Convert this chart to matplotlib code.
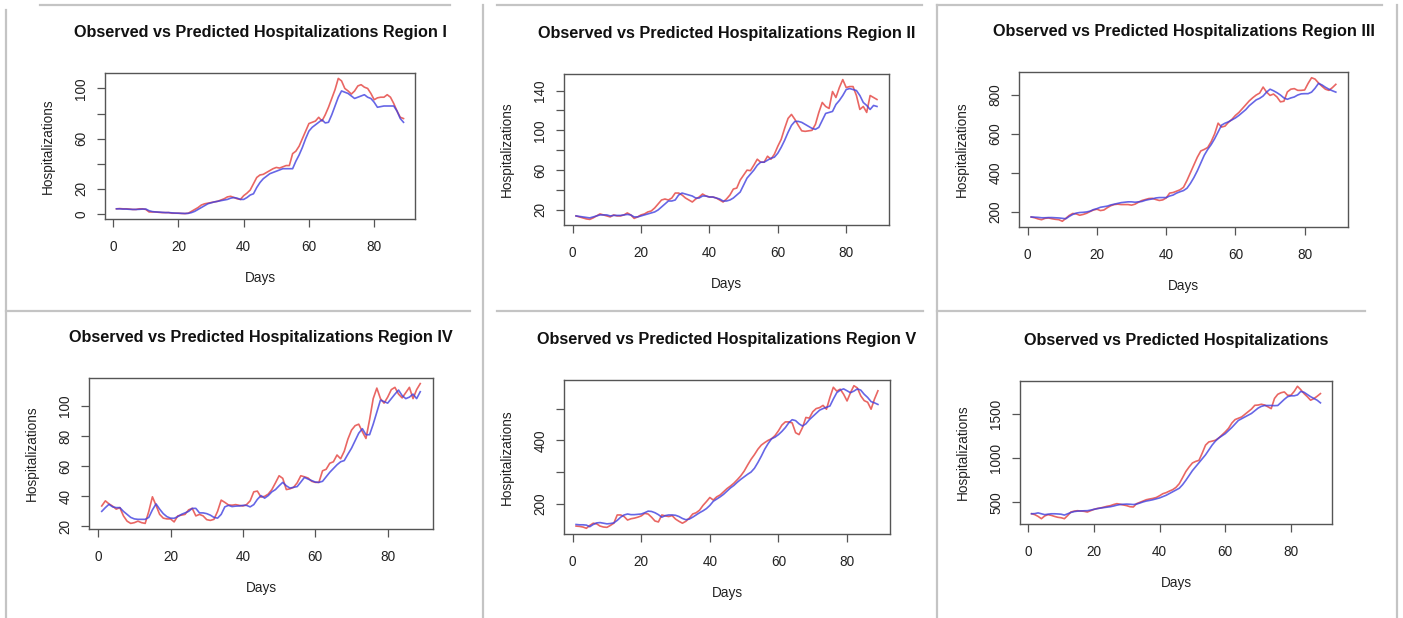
import numpy as np
import matplotlib
matplotlib.use("Agg")
import matplotlib.pyplot as plt
from matplotlib.lines import Line2D

plt.rcParams['font.family'] = ['Liberation Sans', 'DejaVu Sans']

days = np.arange(1, 90)

# Region I
obs_r1 = [4, 4.2, 4, 4, 3.8, 3.5, 3.5, 4, 4, 3.5,
          1.5, 1.5, 1.5, 1.2, 1, 1, 1, 0.5, 0.5, 0.5,
          0.3, 0.2, 0.5, 2, 3.5, 5, 7, 8, 8.5, 9,
          9.5, 10, 11, 12, 13.5, 14, 13, 12, 11.5, 14.5,
          16.5, 19, 24, 29, 31, 31.5, 33, 34.5, 36, 37,
          36.5, 37.5, 38.5, 38.5, 48, 50, 54, 60, 66, 72,
          73, 74, 77, 74, 79, 85, 92, 99, 108, 106,
          100, 98, 95.5, 98, 102, 103, 101, 100, 96, 91,
          92.5, 93, 93, 95, 93, 88, 82, 77, 76]
pred_r1 = [4, 4, 3.8, 3.8, 3.6, 3.5, 3.5, 3.6, 3.8, 3.8,
           2.5, 1.8, 1.5, 1.4, 1.2, 1, 1, 0.8, 0.6, 0.5,
           0.4, 0.3, 0.4, 1, 2, 3.5, 5, 6.5, 8, 8.8,
           9.5, 10, 10.5, 11, 11.5, 12.5, 13, 12.5, 11.5, 11.5,
           13, 15, 16, 21, 25, 28, 30, 32, 33, 34,
           35, 36, 36, 36, 36, 42, 47, 53, 60, 66,
           69, 71, 73, 75, 72.5, 73, 79, 86, 93, 98,
           97, 96, 94, 92, 93, 94, 95, 93, 92, 89,
           85, 85.5, 86, 86, 86, 86, 82, 76, 73]

# Region II
obs_r2 = [14, 13, 12, 11, 10.5, 12, 14, 16, 15, 14,
          13, 15, 14, 14, 15, 17, 15, 11.5, 13, 15,
          16, 18, 19, 22, 26, 30, 31, 30, 32, 37,
          37, 35, 32, 30, 28, 31, 33, 36, 34, 33,
          33, 32, 30, 28, 31, 35, 41, 42, 50, 55,
          60, 59.5, 65, 71, 68, 68, 74, 71, 76, 84,
          91, 102, 112, 116, 111, 105, 99.5, 99, 99.5, 100,
          106, 118, 128, 124, 122, 139, 133, 143, 151, 143,
          144, 144, 135, 121, 124, 118, 135, 133, 131]
pred_r2 = [14, 13.5, 13, 12.5, 12, 13, 14, 15, 15, 15,
           14, 14.5, 14.5, 14.5, 15, 15.5, 15, 13, 13, 14,
           15, 16, 17, 18, 20, 23, 26, 29, 29, 30,
           35, 37, 36, 35, 34, 32, 32, 34, 34, 33,
           33, 32, 31, 29, 29, 30, 32, 35, 38, 45,
           52, 56, 60, 65, 68, 68, 70, 72, 73, 77,
           83, 90, 98, 105, 109, 109, 108, 106, 104, 102,
           101, 103, 110, 117, 118, 119, 126, 130, 135, 141,
           142, 141, 140, 135, 128, 125, 121, 125, 124]

# Region III
obs_r3 = [172, 168, 162, 158, 165, 167, 163, 160, 158, 150,
          165, 180, 190, 188, 181, 185, 191, 200, 208, 212,
          205, 208, 220, 230, 236, 238, 236, 236, 236, 233,
          238, 248, 257, 262, 267, 268, 262, 257, 260, 270,
          295, 298, 305, 312, 325, 360, 400, 440, 480, 512,
          520, 530, 560, 600, 655, 635, 640, 660, 675, 695,
          710, 730, 750, 770, 786, 800, 810, 841, 815, 798,
          805, 790, 765, 768, 816, 830, 833, 824, 824, 826,
          860, 889, 882, 862, 845, 830, 824, 838, 855]
pred_r3 = [172, 171, 170, 168, 168, 169, 169, 168, 167, 165,
           163, 175, 185, 192, 195, 196, 198, 202, 210, 215,
           222, 225, 228, 234, 238, 242, 246, 248, 250, 250,
           248, 250, 252, 258, 262, 265, 270, 272, 272, 272,
           280, 285, 295, 302, 308, 320, 345, 375, 410, 450,
           490, 520, 545, 575, 610, 645, 655, 662, 672, 682,
           695, 710, 725, 745, 760, 775, 783, 795, 815, 830,
           822, 812, 800, 785, 778, 785, 790, 800, 806, 807,
           807, 815, 835, 860, 852, 840, 830, 822, 815]

# Region IV
obs_r4 = [33.6, 37, 35, 33.5, 31.5, 32.5, 27, 23.5, 22, 22.5,
          23.5, 22.5, 22, 30, 39.7, 34, 28, 25.5, 25, 25,
          23, 27, 27.5, 28, 31, 32, 27, 28, 27, 24.5,
          24, 24.7, 30, 37.5, 36, 34.3, 34.1, 34.5, 34, 33.6,
          34.5, 37, 43, 43.5, 39.5, 40, 41.5, 44.5, 49, 53.7,
          52, 44.5, 45, 46, 49, 53.7, 53, 52.2, 50, 49.3,
          49.3, 57, 58, 62, 63, 67.5, 65, 70, 78, 84,
          87, 88, 83, 78.5, 91, 105, 112, 105, 102, 106,
          111, 112.5, 108, 105.5, 109, 112.5, 105, 111, 115]
pred_r4 = [30, 32.5, 34.7, 33, 32.5, 32.5, 30, 28, 26, 25,
           24.7, 24.7, 24.7, 26, 31, 35, 31.5, 28.5, 26.5, 25.5,
           25.4, 26.5, 28, 29, 30, 32, 32, 29, 29, 28.5,
           27.5, 26, 25.5, 28, 33, 34, 33.2, 33.5, 33.6, 34,
           34, 33, 34.5, 38, 40.5, 38.8, 40.5, 43, 44.5, 47,
           49.3, 47, 45.5, 46, 46.5, 49.5, 52.6, 51.5, 50.5, 49.5,
           49.3, 50, 53, 56, 58.5, 61, 63, 63.8, 68, 72,
           77, 82, 85, 81, 81, 88, 96, 104, 103, 102,
           105, 108, 110.7, 107, 105, 106, 108, 105, 109.6]

# Region V
obs_r5 = [130, 129, 127, 123, 132, 139, 137, 130, 127, 126,
          132, 139, 165, 165, 160, 149, 153, 155, 158, 162,
          170, 168, 158, 146, 143, 165, 162, 160, 163, 152,
          145, 139, 145, 155, 168, 172, 180, 195, 207, 220,
          212, 222, 228, 238, 248, 256, 265, 276, 288, 303,
          322, 340, 355, 372, 385, 393, 400, 405, 415, 430,
          448, 458, 458, 455, 424, 418, 440, 472, 470, 490,
          500, 503, 510, 498, 535, 567, 555, 561, 545, 524,
          550, 572, 565, 540, 525, 520, 498, 530, 556]
pred_r5 = [135, 134, 134, 133, 128, 135, 140, 141, 139, 137,
           138, 140, 148, 158, 165, 168, 166, 166, 167, 168,
           172, 177, 176, 172, 166, 158, 163, 165, 165, 164,
           160, 154, 150, 152, 158, 165, 172, 178, 185, 195,
           208, 215, 222, 230, 240, 250, 258, 268, 277, 285,
           293, 300, 312, 330, 350, 372, 390, 405, 410, 418,
           428, 440, 455, 465, 462, 452, 445, 452, 465, 475,
           485, 495, 500, 504, 508, 530, 550, 558, 562, 556,
           550, 555, 562, 558, 545, 535, 522, 518, 513]

# All regions
obs_all = [371, 360, 340, 314, 345, 360, 352, 340, 330, 325,
           314, 350, 390, 400, 405, 401, 398, 390, 405, 420,
           430, 436, 445, 455, 462, 475, 485, 478, 470, 462,
           450, 447, 485, 500, 515, 530, 538, 545, 555, 575,
           598, 610, 628, 644, 670, 712, 780, 850, 902, 947,
           965, 977, 1060, 1150, 1186, 1195, 1205, 1230, 1265, 1300,
           1340, 1400, 1440, 1455, 1470, 1500, 1530, 1560, 1602, 1605,
           1614, 1605, 1585, 1564, 1680, 1727, 1745, 1754, 1716, 1716,
           1760, 1818, 1780, 1735, 1700, 1660, 1678, 1705, 1735]
pred_all = [370, 372, 380, 370, 360, 365, 370, 370, 368, 365,
            355, 370, 385, 395, 400, 402, 404, 405, 412, 420,
            428, 435, 440, 445, 450, 458, 468, 475, 478, 480,
            478, 475, 480, 492, 505, 515, 522, 530, 540, 550,
            565, 580, 600, 620, 640, 660, 700, 750, 805, 860,
            905, 950, 995, 1040, 1095, 1150, 1195, 1230, 1255, 1280,
            1315, 1350, 1390, 1430, 1450, 1470, 1490, 1510, 1540, 1570,
            1590, 1600, 1600, 1600, 1598, 1600, 1635, 1670, 1700, 1710,
            1710, 1720, 1760, 1750, 1725, 1700, 1680, 1660, 1630]

titles = ["Observed vs Predicted Hospitalizations Region I",
          "Observed vs Predicted Hospitalizations Region II",
          "Observed vs Predicted Hospitalizations Region III",
          "Observed vs Predicted Hospitalizations Region IV",
          "Observed vs Predicted Hospitalizations Region V",
          "Observed vs Predicted Hospitalizations"]
observed = [obs_r1, obs_r2, obs_r3, obs_r4, obs_r5, obs_all]
predicted = [pred_r1, pred_r2, pred_r3, pred_r4, pred_r5, pred_all]
xticks = [0, 20, 40, 60, 80]
yticks = [[0, 20, 40, 60, 80, 100],
          [20, 40, 60, 80, 100, 120, 140],
          [200, 400, 600, 800],
          [20, 40, 60, 80, 100],
          [200, 300, 400, 500],
          [500, 1000, 1500]]
ytick_labels = [['0', '20', '', '60', '', '100'],
                ['20', '', '60', '', '100', '', '140'],
                ['200', '400', '600', '800'],
                ['20', '40', '60', '80', '100'],
                ['200', '', '400', ''],
                ['500', '1000', '1500']]

W, H = 1403, 618
# plot boxes in pixels: left, top, right, bottom
boxes = [(105, 73, 415, 219), (564, 74, 889, 225), (1019, 72, 1348, 227),
         (89, 378, 433, 529), (564, 380, 890, 534), (1020, 381, 1332, 524)]

fig = plt.figure(figsize=(W / 100, H / 100), dpi=100)
fig.patch.set_facecolor('white')

# table borders
border = '#c4c4c4'
segs = [((40, 5), (450, 5)), ((497, 5), (922, 5)), ((937, 5), (1382, 5)),
        ((6, 311), (470, 311)), ((497, 311), (923, 311)), ((937, 311), (1365, 311)),
        ((6, 10), (6, 618)), ((483, 5), (483, 618)), ((937, 5), (937, 618)),
        ((1397, 5), (1397, 618))]
for (x0, y0), (x1, y1) in segs:
    fig.add_artist(Line2D([x0 / W, x1 / W], [1 - y0 / H, 1 - y1 / H],
                          color=border, lw=1.6, transform=fig.transFigure))

for i in range(6):
    l, t, r, b = boxes[i]
    wpx, hpx = r - l, b - t
    ax = fig.add_axes([l / W, 1 - b / H, wpx / W, hpx / H])
    ax.plot(days, observed[i], color='#e4403c', lw=1.2, alpha=0.8)
    ax.plot(days, predicted[i], color='#4040e0', lw=1.2, alpha=0.8)
    ax.margins(x=0.04, y=0.04)
    ax.set_xticks(xticks)
    ax.set_yticks(yticks[i])
    ax.set_yticklabels(ytick_labels[i])
    for s in ax.spines.values():
        s.set_color('#555555')
        s.set_linewidth(1.0)
    ax.tick_params(axis='both', direction='out', length=6, width=0.9,
                   color='#555555', labelsize=9.8, labelcolor='#222222')
    ax.tick_params(axis='x', pad=9)
    ax.tick_params(axis='y', pad=6, labelrotation=90)
    for lbl in ax.get_yticklabels():
        lbl.set_va('center')
    ax.set_title(titles[i], fontsize=11.7, fontweight='bold', color='#111111',
                 y=1 + 32 / hpx, va='center')
    ax.set_xlabel('Days', fontsize=9.8, color='#222222', va='center')
    ax.xaxis.set_label_coords(0.5, -59 / hpx)
    ax.set_ylabel('Hospitalizations', fontsize=9.8, color='#222222', va='center')
    ax.yaxis.set_label_coords(-57 / wpx, 0.5)

fig.savefig('out.png', dpi=100)
